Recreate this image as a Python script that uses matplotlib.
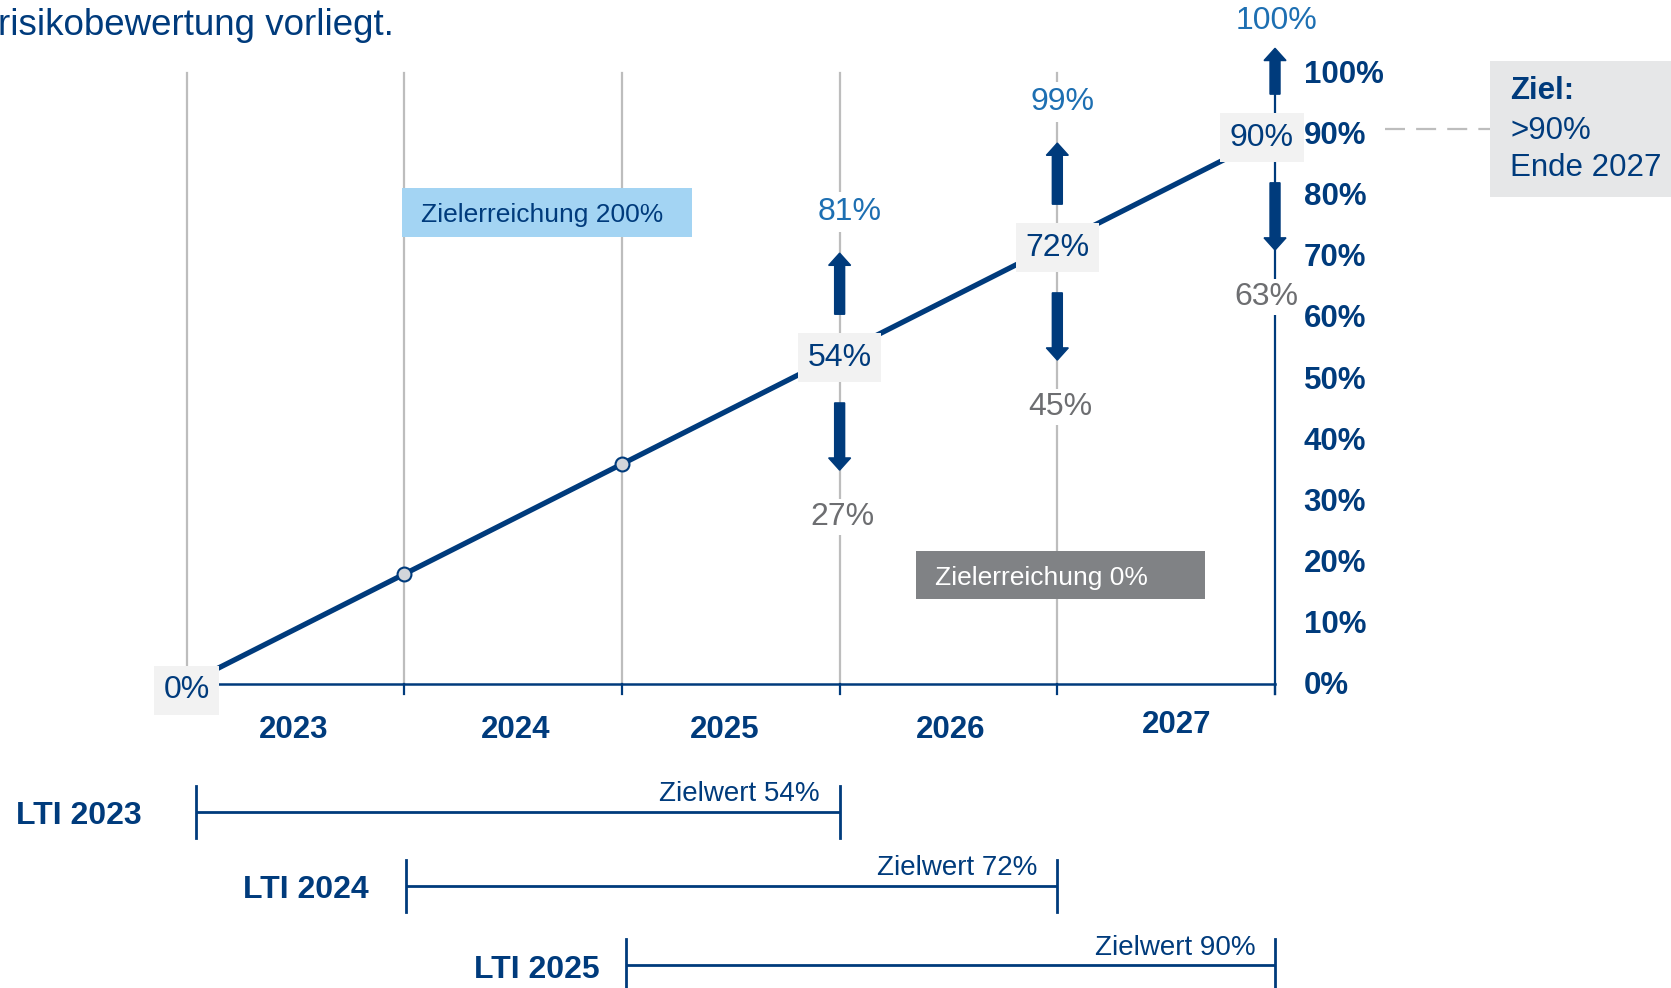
import matplotlib
matplotlib.use("Agg")
import matplotlib.pyplot as plt
from matplotlib.patches import Rectangle, FancyArrow

plt.rcParams["font.family"] = ["Liberation Sans", "DejaVu Sans"]

# ── Data ──────────────────────────────────────────────────────────────────────
years = [2023, 2024, 2025, 2026, 2027]
path_values = [0, 18, 36, 54, 72, 90]          # target path at year boundaries
boxed_points = [0, 3, 4, 5]                    # boundaries with value boxes
marker_points = [1, 2]                         # boundaries with round markers
range_points = [3, 4, 5]
upper_values = [81, 99, 100]
lower_values = [27, 45, 63]
y_ticks = [0, 10, 20, 30, 40, 50, 60, 70, 80, 90, 100]
lti_years = [2023, 2024, 2025]
lti_targets = [54, 72, 90]

# ── Style / layout ────────────────────────────────────────────────────────────
DARK = "#003b7c"
MID = "#1d6fb2"
GREY_TXT = "#6d6e71"
GRID = "#bdbdbd"
PX = 1 / 217.7                                  # one pixel in x data units

year_dx = [-0.01, 0.01, -0.03, 0.01, 0.05]
year_dy = [0, 0, 0, 0, 0.8]
upper_dx = [0.045, 0.025, 0.005]
lower_dx = [0.015, 0.015, -0.04]
lti_start_dx = [0.044, 0.008, 0.017]
lti_label_gap = [0.25, 0.17, 0.12]
lti_y = [-20.9, -33.0, -46.0]

fig = plt.figure(figsize=(16.71, 9.88), dpi=100)
ax = fig.add_axes([0, 0, 1, 1])
ax.set_xlim(-0.857, 6.819)
ax.set_ylim(-49.7, 111.9)
ax.axis("off")

n = len(years)

# header fragment
ax.text(-0.866, 107.7, "risikobewertung vorliegt.", fontsize=26.5, color=DARK,
        ha="left", va="center")

# vertical grid lines
for i in range(n):
    ax.plot([i, i], [0, 100], color=GRID, lw=1.6, zorder=1)

# x axis with ticks
ax.plot([0, n], [0, 0], color=DARK, lw=1.8, zorder=2)
for i in range(1, n + 1):
    ax.plot([i, i], [0, -1.6], color=DARK, lw=1.6, zorder=2)

# right axis
ax.plot([n, n], [-1.6, 97], color=DARK, lw=1.6, zorder=2)
for t in y_ticks:
    ax.text(n + 0.131, t - 0.35, f"{t}%", fontsize=22.5, fontweight="bold",
            color=DARK, ha="left", va="center", zorder=8)

# year labels
for i, yr in enumerate(years):
    ax.text(i + 0.5 + year_dx[i], -7.5 + year_dy[i], str(yr), fontsize=22.5,
            fontweight="bold", color=DARK, ha="center", va="center")

# target path
xs = list(range(len(path_values)))
ax.plot(xs, path_values, color=DARK, lw=3.8, zorder=3, solid_capstyle="butt")
ax.plot(marker_points, [path_values[i] for i in marker_points], "o", ms=10,
        mfc="#d2d5da", mec=DARK, mew=1.5, zorder=4)

for i in boxed_points:
    bx = i - 0.06 if i == n else i
    by = path_values[i] - (1.0 if i == 0 else 0.6)
    ax.text(bx, by, f"{path_values[i]}%", fontsize=23, color=DARK,
            ha="center", va="center", zorder=5,
            bbox=dict(boxstyle="square,pad=0.3", fc="#f2f2f2", ec="none"))

# ranges with arrows
for k, i in enumerate(range_points):
    v = path_values[i]
    up_top = min(v + 16.5, 104)
    ax.add_patch(FancyArrow(i, v + 6.5, 0, up_top - v - 6.5, width=10 * PX,
                            head_width=22 * PX, head_length=2.0,
                            length_includes_head=True, color=DARK, zorder=4))
    ax.add_patch(FancyArrow(i, v - 8, 0, -11, width=10 * PX,
                            head_width=22 * PX, head_length=2.0,
                            length_includes_head=True, color=DARK, zorder=4))
    ax.text(i + upper_dx[k], min(v + 23.2, 108.4), f"{upper_values[k]}%",
            fontsize=23, color=MID, ha="center", va="center", zorder=5,
            bbox=dict(boxstyle="square,pad=0.15", fc="white", ec="none"))
    ax.text(i + lower_dx[k], v - 26.7, f"{lower_values[k]}%", fontsize=23,
            color=GREY_TXT, ha="center", va="center", zorder=5,
            bbox=dict(boxstyle="square,pad=0.1", fc="white", ec="none"))

# achievement boxes
ax.add_patch(Rectangle((0.99, 73.2), 1.33, 8.0, fc="#a3d4f3", ec="none", zorder=5))
ax.text(1.077, 76.8, "Zielerreichung 200%", fontsize=19, color=DARK,
        ha="left", va="center", zorder=6)
ax.add_patch(Rectangle((3.351, 13.9), 1.327, 7.85, fc="#808285", ec="none", zorder=5))
ax.text(3.436, 17.4, "Zielerreichung 0%", fontsize=19, color="white",
        ha="left", va="center", zorder=6)

# goal box
ax.plot([5.507, 5.988], [90.8, 90.8], color=GRID, lw=1.6, dashes=(9, 5))
ax.add_patch(Rectangle((5.988, 79.6), 0.9, 22.3, fc="#e6e7e8", ec="none", zorder=5))
ax.text(6.08, 97.0, "Ziel:", fontsize=22.5, fontweight="bold", color=DARK,
        ha="left", va="center", zorder=6)
ax.text(6.08, 90.5, ">90%", fontsize=22.5, color=DARK, ha="left", va="center", zorder=6)
ax.text(6.08, 84.4, "Ende 2027", fontsize=22.5, color=DARK, ha="left", va="center",
        zorder=6)

# LTI periods
for k, yr in enumerate(lti_years):
    x0 = yr - years[0] + lti_start_dx[k]
    x1 = yr - years[0] + 3
    y = lti_y[k]
    ax.plot([x0, x1], [y, y], color=DARK, lw=2.0, solid_capstyle="butt")
    for xx in (x0, x1):
        ax.plot([xx, xx], [y + 4.3, y - 4.3], color=DARK, lw=2.0)
    ax.text(x0 - lti_label_gap[k], y - 0.7, f"LTI {yr}", fontsize=23,
            fontweight="bold", color=DARK, ha="right", va="center")
    ax.text(x1 - 0.09, y + 2.9, f"Zielwert {lti_targets[k]}%", fontsize=20,
            color=DARK, ha="right", va="center")

fig.savefig("out.png", dpi=100)
